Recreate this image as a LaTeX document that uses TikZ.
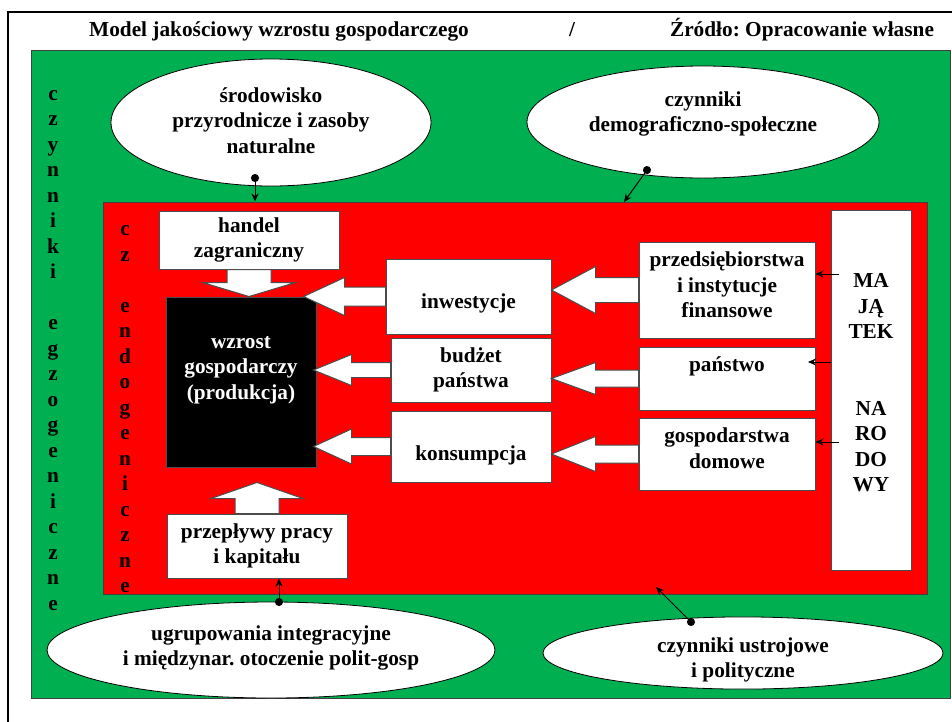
\documentclass[tikz,border=0pt]{standalone}
\usepackage{fontspec}
\setmainfont{Liberation Serif}
\usetikzlibrary{shapes.geometric, positioning, arrows.meta, calc}
\definecolor{exogreen}{HTML}{00B050}
\definecolor{endored}{HTML}{FF0000}
\frenchspacing
\newcommand{\nudge}[2]{\raisebox{#1}[\height][\depth]{#2}}
\tikzset{
txt/.style = {font = \fontsize{21.3}{25.5}\selectfont\bfseries},
box/.style = {rectangle, draw = black!70, fill = white, line width = 1pt, inner sep = 0pt, txt},
oval/.style = {ellipse, draw = black, fill = white, line width = 0.8pt, inner sep = 0pt, txt},
blk/.style = {draw = black!70, fill = white, line width = 1pt, line join = miter},
link/.style = {{Circle[length = 8pt]}-{Stealth[length = 8pt, width = 7pt]}, line width = 1pt},
feed/.style = {-{Stealth[length = 8pt, width = 7pt]}, line width = 1pt}
}
\newcommand{\leftblock}[5]{%
\filldraw[blk] let \p1 = (#1), \p2 = (#2) in
(\p2) -- ({\x2+#5}, {\y2+#4}) -- ({\x2+#5}, {\y1+#3}) -- (\x1, {\y1+#3})
-- (\x1, {\y1-#3}) -- ({\x2+#5}, {\y1-#3}) -- ({\x2+#5}, {\y2-#4}) -- cycle;}
\newcommand{\vertblock}[5]{%
\filldraw[blk] let \p1 = (#1), \p2 = (#2) in
(\p2) -- ({\x2+#4}, {\y2+(#5)}) -- ({\x1+#3}, {\y2+(#5)}) -- ({\x1+#3}, \y1)
-- ({\x1-#3}, \y1) -- ({\x1-#3}, {\y2+(#5)}) -- ({\x2-#4}, {\y2+(#5)}) -- cycle;}
\begin{document}
\begin{tikzpicture}[x = 1pt, y = -1pt]
\useasboundingbox (0,0) rectangle (952,721);
\clip (0,0) rectangle (952,721);
\fill[white] (0,0) rectangle (952,721);
\draw[line width = 2.5pt] (8,12) rectangle (990,760);

\node[txt, anchor = base](title) at (279,36){Model jakościowy wzrostu gospodarczego};
\node[txt, anchor = base](slash) at (572,36){/};
\node[txt, anchor = base](source) at (802,36){Źródło: Opracowanie własne};

\node[rectangle, draw = black!75, fill = exogreen, line width = 1pt, minimum width = 919pt, minimum height = 648pt](exo) at (490.5,374){};
\node[rectangle, draw = black!75, fill = endored, line width = 1pt, minimum width = 824pt, minimum height = 392pt](endo) at (515,398){};

\node[txt](exolabel) at (53,350){\begin{tabular}{c} c\\ z\\ y\\ n\\ n\\ i\\ k\\ i\\ \\ e\\ g\\ z\\ o\\ g\\ e\\ n\\ i\\ c\\ z\\ n\\ e\end{tabular}};
\node[txt](endolabel) at (125,409){\begin{tabular}{c} c\\ z\\ \\ e\\ n\\ d\\ o\\ g\\ e\\ n\\ i\\ c\\ z\\ n\\ e\end{tabular}};

\node[oval, minimum width = 320pt, minimum height = 127pt](env) at (271,122.5){\begin{tabular}{c} środowisko \\ przyrodnicze i zasoby \\ naturalne\end{tabular}};
\node[oval, minimum width = 352pt, minimum height = 112pt](demo) at (703,122){\nudge{8pt}{\begin{tabular}{c} czynniki \\ demograficzno-społeczne\end{tabular}}};
\node[oval, minimum width = 448pt, minimum height = 96pt](ugr) at (271,650){\nudge{2pt}{\begin{tabular}{c} ugrupowania integracyjne \\ i międzynar. otoczenie polit-gosp\end{tabular}}};
\node[oval, minimum width = 400pt, minimum height = 70pt](ustr) at (743,653){\nudge{-7pt}{\begin{tabular}{c} czynniki ustrojowe \\ i polityczne\end{tabular}}};

\node[box, fill = black, text = white, minimum width = 150pt, minimum height = 170pt](wzrost) at (241,382){\nudge{13.4pt}{\begin{tabular}{c} wzrost \\ gospodarczy \\ (produkcja)\end{tabular}}};

\node[box, minimum width = 180pt, minimum height = 58pt](handel) at (249,240){\begin{tabular}{c} handel \\ zagraniczny\end{tabular}};
\node[box, minimum width = 165pt, minimum height = 75pt](inw) at (468.5,296.5){\nudge{-6.5pt}{inwestycje}};
\node[box, minimum width = 160pt, minimum height = 64pt](bud) at (471,370){\begin{tabular}{c} budżet \\ państwa\end{tabular}};
\node[box, minimum width = 160pt, minimum height = 71pt](kons) at (471,446.5){\nudge{-8.5pt}{konsumpcja}};
\node[box, minimum width = 176pt, minimum height = 96pt](przeds) at (727,290){\nudge{3pt}{\begin{tabular}{c} przedsiębiorstwa \\ i instytucje \\ finansowe\end{tabular}}};
\node[box, below = 8pt of przeds, minimum width = 176pt, minimum height = 63pt](panstwo){\nudge{12.5pt}{państwo}};
\node[box, below = 7pt of panstwo, minimum width = 176pt, minimum height = 72pt](gosp){\nudge{3.5pt}{\begin{tabular}{c} gospodarstwa \\ domowe\end{tabular}}};
\node[box, minimum width = 80pt, minimum height = 360pt](majatek) at (871,390){\nudge{5.6pt}{\begin{tabular}{c} MA \\ JĄ \\ TEK \\ \\ \\ NA \\ RO \\ DO \\ WY\end{tabular}}};
\node[box, minimum width = 180pt, minimum height = 64pt](przepl) at (257,546){\begin{tabular}{c} przepływy pracy \\ i kapitału\end{tabular}};

\leftblock{inw.west}{$(wzrost.east |- inw.west) + (-13pt,0)$}{9.5pt}{19pt}{41pt}
\leftblock{bud.west}{$(wzrost.east |- bud.west) + (-3pt,0)$}{7.5pt}{15.5pt}{38pt}
\leftblock{kons.west}{$(wzrost.east |- kons.west) + (-3pt,0)$}{9pt}{17.5pt}{38pt}
\leftblock{przeds.west}{inw.east |- przeds.west}{12.5pt}{23.5pt}{44pt}
\leftblock{panstwo.west}{bud.east |- panstwo.west}{8.5pt}{16pt}{44pt}
\leftblock{gosp.west}{kons.east |- gosp.west}{9pt}{17.5pt}{44pt}
\vertblock{handel.south}{handel.south |- wzrost.north}{22pt}{46.5pt}{14pt}
\vertblock{przepl.north}{$(przepl.north |- wzrost.south) + (0,-15pt)$}{22pt}{46pt}{-16pt}

\coordinate (envdot) at (255,174);
\coordinate (demodot) at (649.3,166.8);
\coordinate (demotip) at (624,202);
\coordinate (ugrdot) at (279,606);
\coordinate (ustrdot) at (693.8,624.8);
\coordinate (ustrtip) at (656,587);
\coordinate (m1) at (839,274);
\coordinate (m2) at (808,362);
\coordinate (m3) at (839,442);

\draw[link] (envdot) -- (envdot |- endo.north);
\draw[link] (demodot) -- (demotip);
\draw[link] (ugrdot) -- (ugrdot |- przepl.south);
\draw[link] (ustrdot) -- (ustrtip);
\draw[feed] (m1) -- (m1 -| przeds.east);
\draw[feed] (majatek.west |- m2) -- (m2);
\draw[feed] (m3) -- (m3 -| gosp.east);
\end{tikzpicture}
\end{document}
